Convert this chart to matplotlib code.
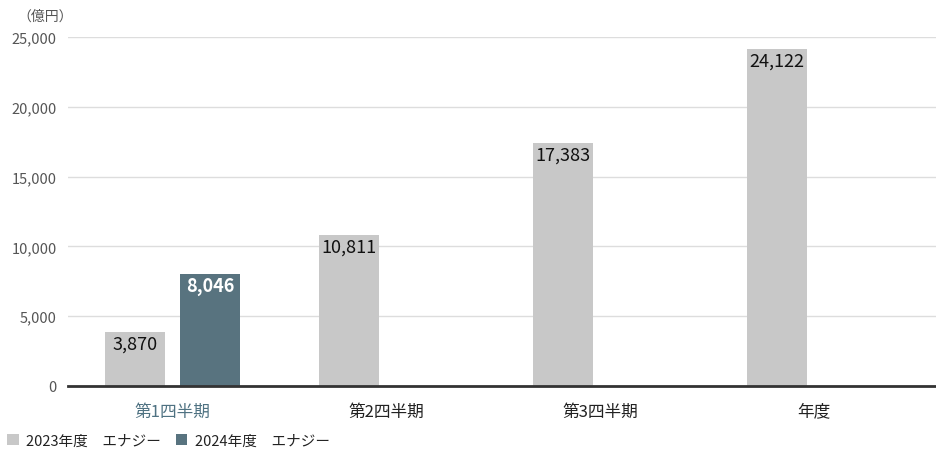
import matplotlib
matplotlib.use("Agg")
import matplotlib.pyplot as plt
import numpy as np

plt.rcParams['font.family'] = ['Noto Sans CJK JP', 'DejaVu Sans']

categories = ["第1四半期", "第2四半期", "第3四半期", "年度"]
fy2023 = [3870, 10811, 17383, 24122]
fy2024 = [8046]
series_names = ["2023年度　エナジー", "2024年度　エナジー"]
yticks = [0, 5000, 10000, 15000, 20000, 25000]

c2023 = "#c8c8c8"
c2024 = "#58737f"

fig = plt.figure(figsize=(9.36, 4.56), dpi=100)
ax = fig.add_axes([68 / 936, 69 / 456, 1 - 68 / 936, 349 / 456])

x = np.arange(len(categories))
w = 0.28
off = 0.175

b1 = ax.bar(x - off, fy2023, width=w, color=c2023, zorder=2, label=series_names[0])
b2 = ax.bar(x[:len(fy2024)] + off, fy2024, width=w, color=c2024, zorder=2, label=series_names[1])

for rect, v in zip(b1, fy2023):
    ax.text(rect.get_x() + rect.get_width() / 2, v - 180, f"{v:,}", ha="center", va="top",
            fontsize=13, color="#111111", zorder=3)
for rect, v in zip(b2, fy2024):
    ax.text(rect.get_x() + rect.get_width() / 2, v - 180, f"{v:,}", ha="center", va="top",
            fontsize=13, color="white", fontweight="bold", zorder=3)

ax.set_xlim(-0.49, 3.57)
ax.set_ylim(0, 25000)
ax.set_yticks(yticks)
ax.set_yticklabels([f"{t:,}" for t in yticks], fontsize=10.5, color="#555555")
ax.yaxis.grid(True, color="#dddddd", linewidth=1, zorder=0)
ax.set_xticks(x)
ax.set_xticklabels(categories, fontsize=12, color="#222222")
ax.get_xticklabels()[0].set_color("#4f7282")
ax.tick_params(axis="both", length=0)
ax.tick_params(axis="x", pad=12)
ax.tick_params(axis="y", pad=8)
for s in ["top", "right", "left"]:
    ax.spines[s].set_visible(False)
ax.spines["bottom"].set_color("#333333")
ax.spines["bottom"].set_linewidth(2)
ax.spines["bottom"].set_zorder(4)

fig.text(45 / 936, 1 - 17 / 456, "（億円）", ha="center", va="center", fontsize=10, color="#555555")

leg = fig.legend(handles=[b1, b2], labels=series_names, loc="lower left",
                 bbox_to_anchor=(0.0, 0.0), ncol=2, frameon=False, fontsize=10.5,
                 handlelength=0.8, handleheight=0.8, handletextpad=0.5, columnspacing=1.0,
                 borderaxespad=0.1)
for t in leg.get_texts():
    t.set_color("#222222")

fig.savefig("out.png", dpi=100)
